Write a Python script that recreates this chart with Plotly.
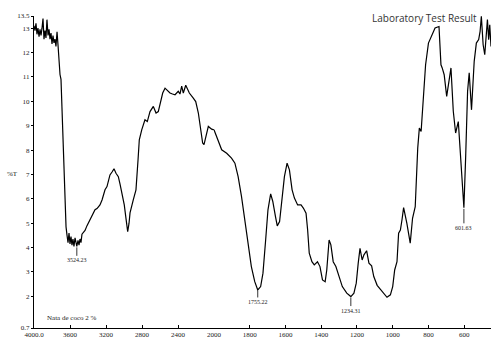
import plotly.graph_objects as go

# FTIR spectrum: wavenumber (cm-1) and transmittance (%T)
wavenumber = [
    4000, 3989, 3978, 3967, 3956, 3944, 3933, 3922, 3911, 3900, 3889, 3878, 3867, 3856,
    3844, 3833, 3822, 3811, 3800, 3789, 3778, 3767, 3756, 3744, 3733, 3722, 3711, 3700,
    3674, 3659, 3652, 3644, 3633, 3622, 3611, 3600, 3589, 3578, 3567, 3556, 3544, 3533,
    3524.23, 3511, 3500, 3489, 3478, 3467, 3452, 3433, 3411, 3378, 3356, 3322, 3300, 3267,
    3244, 3211, 3189, 3156, 3133, 3111, 3089, 3063, 3044, 3026, 3011, 2997, 2978, 2959,
    2944, 2933, 2897, 2867, 2844, 2830, 2803, 2767, 2741, 2711, 2674, 2644, 2619, 2594,
    2570, 2544, 2517, 2489, 2461, 2433, 2397, 2378, 2359, 2341, 2314, 2294, 2274, 2230,
    2203, 2174, 2148, 2126, 2111, 2089, 2063, 2026, 2000,
    1976, 1957, 1929, 1911, 1902, 1883, 1865, 1846, 1828, 1809, 1791, 1772, 1755.22, 1739,
    1726, 1711, 1698, 1683, 1671, 1656, 1646, 1633, 1618, 1606, 1591, 1578, 1563, 1550,
    1532, 1513, 1500, 1485, 1476, 1467, 1452, 1439, 1421, 1407, 1393, 1378, 1369, 1356,
    1346, 1333, 1318, 1300, 1282, 1257, 1234.31, 1217, 1204, 1193, 1183, 1171, 1161, 1146,
    1133, 1118, 1106, 1087, 1059, 1032, 1013, 1000, 989, 976, 967, 957, 948, 939, 921,
    902, 889, 874, 860, 851, 841, 828, 816, 800, 782, 763, 741, 730, 723, 712, 698, 689,
    674, 661, 648, 633, 618, 601.63, 592, 581, 572, 559, 544, 532, 519, 511, 504, 494,
    485, 476, 470, 463, 457, 450,
]
transmittance = [
    13.10, 12.90, 13.20, 12.75, 13.00, 12.65, 12.95, 12.70, 13.00, 13.40, 12.55, 12.90, 12.60, 13.35,
    12.70, 12.95, 12.55, 12.80, 12.35, 12.70, 12.40, 12.55, 12.25, 12.85, 12.30, 11.60, 11.10, 10.90,
    8.10, 5.75, 5.60, 4.85, 4.50, 4.20, 4.60, 4.15, 4.45, 4.10, 4.35, 4.05, 4.40, 4.15,
    4.05, 4.30, 4.10, 4.35, 4.20, 4.55, 4.60, 4.70, 4.90, 5.13, 5.30, 5.55, 5.60, 5.75,
    5.95, 6.37, 6.50, 6.98, 7.10, 7.23, 7.05, 6.91, 6.60, 6.24, 6.00, 5.75, 5.20, 4.65,
    5.00, 5.42, 5.96, 6.37, 7.60, 8.42, 8.83, 9.24, 9.17, 9.58, 9.79, 9.52, 9.58, 9.95,
    10.34, 10.54, 10.45, 10.34, 10.30, 10.27, 10.41, 10.30, 10.62, 10.34, 10.66, 10.50, 10.34, 10.13,
    9.99, 9.52, 8.83, 8.29, 8.22, 8.56, 8.97, 8.86, 8.83,
    8.36, 8.01, 7.87, 7.76, 7.67, 7.46, 6.91, 6.09, 5.14, 4.18, 3.22, 2.60, 2.26, 2.40,
    2.95, 4.31, 5.55, 6.20, 5.89, 5.27, 4.89, 5.07, 6.09, 6.91, 7.46, 7.19, 6.37, 6.03,
    5.75, 5.75, 5.62, 5.41, 4.72, 3.77, 3.42, 3.29, 3.42, 3.22, 2.67, 2.60, 3.08, 4.31,
    4.11, 3.42, 3.22, 2.81, 2.40, 2.13, 1.99, 2.13, 2.54, 3.36, 3.97, 3.49, 3.70, 3.87,
    3.36, 3.25, 2.81, 2.45, 2.19, 1.96, 2.06, 2.40, 3.08, 3.42, 4.59, 4.72, 5.14, 5.64, 5.00,
    4.18, 5.20, 5.68, 8.08, 8.90, 8.76, 10.41, 11.50, 12.39, 12.73, 13.01, 13.07, 11.50, 11.37, 11.09, 10.20, 10.68,
    11.37, 9.59, 8.70, 9.17, 7.67, 5.63, 7.67, 10.41, 11.17, 9.65, 11.64, 12.39, 12.53, 12.87, 13.49, 12.32,
    11.91, 12.73, 13.35, 12.53, 13.14, 12.25,
]

# labelled absorption peaks
peak_wavenumber = [3524.23, 1755.22, 1234.31, 601.63]
peak_labels = ["3524.23", "1755.22", "1234.31", "601.63"]
peak_label_offset = [14, 12, 14, 20]  # px below the peak

# axis ticks
left_ticks = [4000, 3600, 3200, 2800, 2400]
left_ticktext = ["4000.0", "3600", "3200", "2800", "2400"]
right_ticks = [2000, 1800, 1600, 1400, 1200, 1000, 800, 600, 450]
right_ticktext = ["2000", "1800", "1600", "1400", "1200", "1000", "800", "600", "450"]
y_ticks = [0.7, 2, 3, 4, 5, 6, 7, 8, 9, 10, 11, 12, 13, 13.5]
y_ticktext = ["0.7", "2", "3", "4", "5", "6", "7", "8", "9", "10", "11", "12", "13", "13.5"]

SPLIT = 2000  # the wavenumber scale doubles below 2000 cm-1

left_x = [w for w in wavenumber if w >= SPLIT]
left_y = [t for w, t in zip(wavenumber, transmittance) if w >= SPLIT]
right_x = [w for w in wavenumber if w <= SPLIT]
right_y = [t for w, t in zip(wavenumber, transmittance) if w <= SPLIT]

line_style = dict(color="black", width=1.2)
fig = go.Figure()
fig.add_trace(go.Scatter(x=left_x, y=left_y, mode="lines", line=line_style,
                         xaxis="x", yaxis="y", hoverinfo="x+y"))
fig.add_trace(go.Scatter(x=right_x, y=right_y, mode="lines", line=line_style,
                         xaxis="x2", yaxis="y", hoverinfo="x+y"))

tick_font = dict(family="Liberation Serif", size=7, color="#222")
split_frac = 180 / 457

axis_common = dict(showline=True, linecolor="black", linewidth=1, showgrid=False,
                   zeroline=False, ticks="inside", ticklen=3, tickcolor="black",
                   tickfont=tick_font, tickmode="array")

fig.update_layout(
    width=493, height=343,
    margin=dict(l=34, r=2, t=16, b=15),
    plot_bgcolor="white", paper_bgcolor="white",
    showlegend=False,
    xaxis=dict(domain=[0, split_frac], range=[4000, SPLIT], anchor="y",
               tickvals=left_ticks, ticktext=left_ticktext, **axis_common),
    xaxis2=dict(domain=[split_frac, 1], range=[SPLIT, 450], anchor="y",
                tickvals=right_ticks, ticktext=right_ticktext, **axis_common),
    yaxis=dict(range=[0.7, 13.5], anchor="x", showline=True, linecolor="black",
               linewidth=1, showgrid=False, zeroline=False, ticks="outside",
               ticklen=2, tickcolor="black", tickfont=tick_font, tickmode="array",
               tickvals=y_ticks, ticktext=y_ticktext),
)

annotations = []
for w, lab, off in zip(peak_wavenumber, peak_labels, peak_label_offset):
    t = transmittance[wavenumber.index(w)]
    xref = "x" if w > SPLIT else "x2"
    annotations.append(dict(x=w, y=t, xref=xref, yref="y", text=lab,
                            showarrow=True, arrowhead=0, arrowwidth=0.8,
                            arrowcolor="black", ax=0, ay=off, standoff=1,
                            font=dict(family="Liberation Serif", size=6, color="#222")))

annotations += [
    dict(text="%T", xref="paper", yref="y", x=-0.047, y=7, showarrow=False,
         xanchor="center", yanchor="middle",
         font=dict(family="Liberation Serif", size=7, color="#222")),
    dict(text="Nata de coco 2 %", xref="paper", yref="paper", x=0.024, y=0.032,
         showarrow=False, xanchor="left", yanchor="middle",
         font=dict(family="Liberation Serif", size=7, color="#222")),
    dict(text="Laboratory Test Result", xref="paper", yref="paper", x=0.974, y=0.994,
         showarrow=False, xanchor="right", yanchor="middle",
         font=dict(family="Open Sans", size=10, color="#333")),
]
fig.update_layout(annotations=annotations)

fig.write_html("out.html")
